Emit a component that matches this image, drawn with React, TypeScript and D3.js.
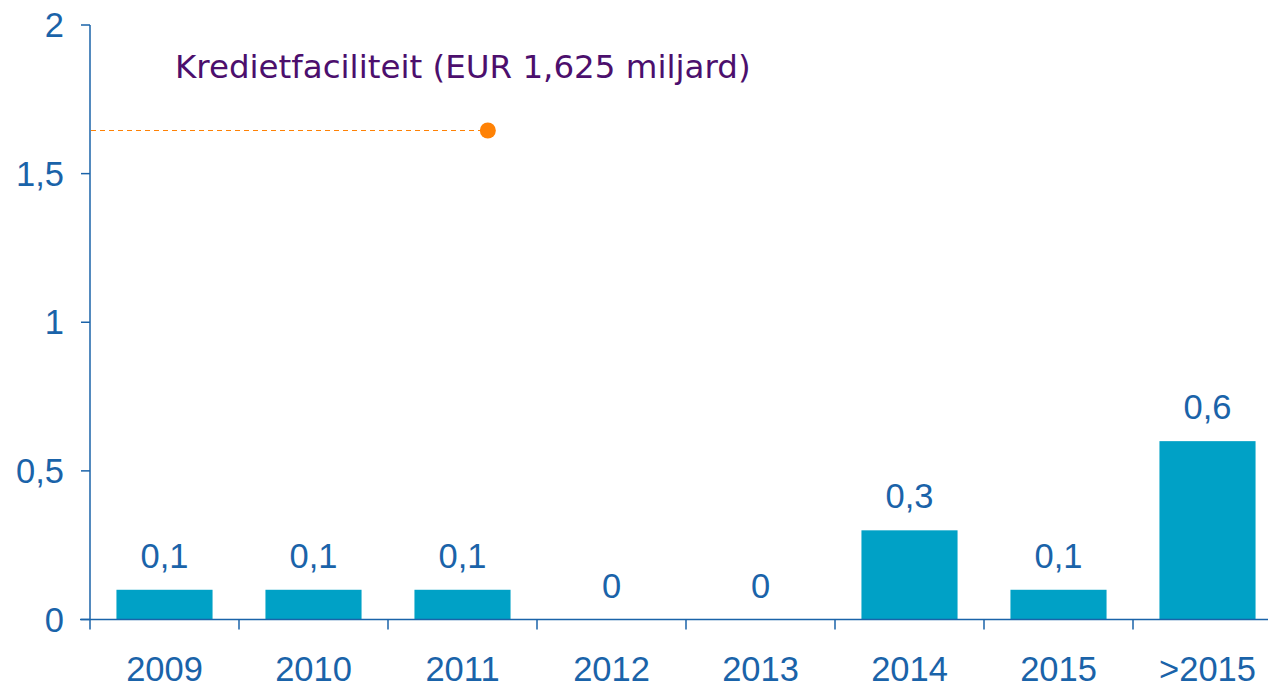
import React, {useRef, useEffect} from 'react'
import * as d3 from 'd3'

const categories = ['2009', '2010', '2011', '2012', '2013', '2014', '2015', '>2015']
const values = [0.1, 0.1, 0.1, 0, 0, 0.3, 0.1, 0.6]
const yTicks = [0, 0.5, 1, 1.5, 2]
const facilityLabel = 'Kredietfaciliteit (EUR 1,625 miljard)'
// marker position: level on y, position in category units on x
const facilityLevel = 1.645
const facilityPos = 2.67

const BLUE = '#1a63a9'
const BAR = '#00a1c6'
const ORANGE = '#ff8205'
const PURPLE = '#4c0f6d'

const nl = d3.formatLocale({decimal: ',', thousands: '.', grouping: [3], currency: ['€', '']})
const fmt = (v: number) => nl.format('~g')(v)

function App() {
  const ref: any = useRef<SVGSVGElement>(null)

  useEffect(() => {
    const width = 1268
    const left = 90
    const svg = d3.select(ref.current)
    svg.selectAll('*').remove()

    const xScale = d3
      .scaleBand()
      .domain(categories)
      .range([left, 1282])
      .paddingInner(0.355)
      .paddingOuter(0.1775)
    const step = xScale.step()
    const xPos = d3.scaleLinear().domain([0, categories.length]).range([left, 1282])

    const yScale = d3.scaleLinear().domain([0, 2]).range([619.5, 25])

    const font = '"Liberation Sans", Arial, sans-serif'
    const fs = 34.5

    // bars
    svg
      .append('g')
      .selectAll('rect')
      .data(values)
      .enter()
      .append('rect')
      .attr('x', (_d, i) => xScale(categories[i]) as number)
      .attr('width', xScale.bandwidth())
      .attr('y', d => yScale(d))
      .attr('height', d => yScale(0) - yScale(d))
      .attr('fill', BAR)

    // value labels
    svg
      .append('g')
      .selectAll('text')
      .data(values)
      .enter()
      .append('text')
      .attr('x', (_d, i) => (xScale(categories[i]) as number) + xScale.bandwidth() / 2)
      .attr('y', d => yScale(d) - 22)
      .attr('text-anchor', 'middle')
      .attr('font-family', font)
      .attr('font-size', fs)
      .attr('fill', BLUE)
      .text(d => fmt(d))

    // x axis
    const xAxis = svg.append('g')
    xAxis
      .append('line')
      .attr('x1', 80)
      .attr('x2', width)
      .attr('y1', yScale(0))
      .attr('y2', yScale(0))
      .attr('stroke', BLUE)
      .attr('stroke-width', 1.5)
    xAxis
      .selectAll('line.tick')
      .data(categories.slice(1))
      .enter()
      .append('line')
      .attr('class', 'tick')
      .attr('x1', d => (xScale(d) as number) - (step - xScale.bandwidth()) / 2)
      .attr('x2', d => (xScale(d) as number) - (step - xScale.bandwidth()) / 2)
      .attr('y1', yScale(0))
      .attr('y2', yScale(0) + 10)
      .attr('stroke', BLUE)
      .attr('stroke-width', 1.5)
    xAxis
      .selectAll('text')
      .data(categories)
      .enter()
      .append('text')
      .attr('x', d => (xScale(d) as number) + xScale.bandwidth() / 2)
      .attr('y', 681)
      .attr('text-anchor', 'middle')
      .attr('font-family', font)
      .attr('font-size', fs)
      .attr('fill', BLUE)
      .text(d => d)

    // y axis
    const yAxis = svg.append('g')
    yAxis
      .append('line')
      .attr('x1', left)
      .attr('x2', left)
      .attr('y1', yScale(2))
      .attr('y2', yScale(0) + 10)
      .attr('stroke', BLUE)
      .attr('stroke-width', 1.5)
    yAxis
      .selectAll('line.tick')
      .data(yTicks)
      .enter()
      .append('line')
      .attr('class', 'tick')
      .attr('x1', 81)
      .attr('x2', left)
      .attr('y1', d => yScale(d))
      .attr('y2', d => yScale(d))
      .attr('stroke', BLUE)
      .attr('stroke-width', 1.5)
    yAxis
      .selectAll('text')
      .data(yTicks)
      .enter()
      .append('text')
      .attr('x', 64)
      .attr('y', d => yScale(d))
      .attr('dy', '0.35em')
      .attr('text-anchor', 'end')
      .attr('font-family', font)
      .attr('font-size', fs)
      .attr('fill', BLUE)
      .text(d => fmt(d))

    // credit facility marker
    svg
      .append('line')
      .attr('x1', left + 1)
      .attr('x2', xPos(facilityPos))
      .attr('y1', yScale(facilityLevel))
      .attr('y2', yScale(facilityLevel))
      .attr('stroke', ORANGE)
      .attr('stroke-width', 1.2)
      .attr('stroke-dasharray', '5,4')
    svg
      .append('circle')
      .attr('cx', xPos(facilityPos))
      .attr('cy', yScale(facilityLevel))
      .attr('r', 8)
      .attr('fill', ORANGE)

    svg
      .append('text')
      .attr('x', 175)
      .attr('y', 78)
      .attr('font-family', '"DejaVu Sans", Verdana, sans-serif')
      .attr('font-size', 32.5)
      .attr('fill', PURPLE)
      .text(facilityLabel)
  }, [])

  return (
    <svg
      ref={ref}
      width={1268}
      height={689}
      style={{position: 'absolute', left: 0, top: 0, display: 'block', background: '#fff'}}
    />
  )
}

export default App
